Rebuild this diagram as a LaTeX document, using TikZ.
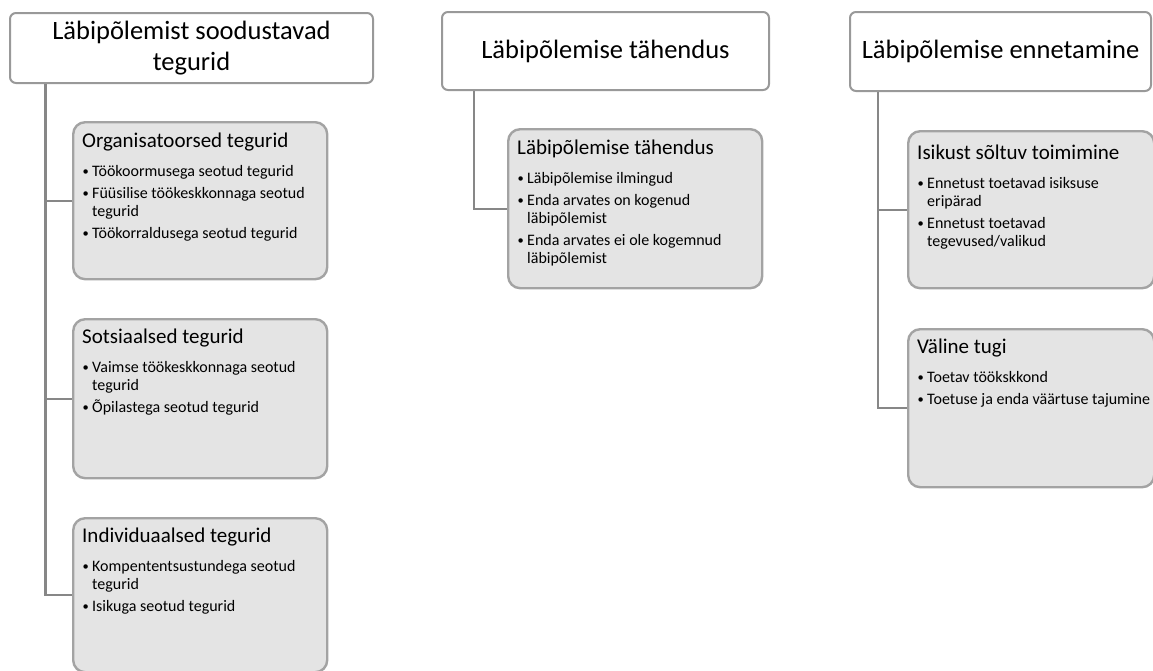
\documentclass[tikz,border=0pt]{standalone}
\usepackage{fontspec}
\setmainfont{Carlito}
\usetikzlibrary{calc}
\definecolor{bordgray}{HTML}{A3A3A3}
\definecolor{topgray}{HTML}{999999}
\definecolor{fillgray}{HTML}{E4E4E4}
\definecolor{conngray}{HTML}{878787}
\newcommand{\bitem}[1]{\par\vspace{3.5pt}\hangindent=10pt\hangafter=1\noindent\makebox[10pt][l]{\kern0.5pt\raisebox{0.6pt}{\fontsize{12.5}{12.5}\selectfont\textbullet}}#1\par}
\newcommand{\cbody}[2]{\begin{minipage}[t]{250pt}\raggedright\fontsize{21}{25}\selectfont #1\par\fontsize{16}{18.3}\selectfont\vspace{7.5pt}#2\end{minipage}}
\tikzset{
  topbox/.style={draw=topgray, line width=2pt, fill=white, rounded corners=6pt, inner sep=0pt, align=center, font=\fontsize{26.5}{31}\selectfont, anchor=north west},
  childbox/.style={draw=bordgray, line width=2.4pt, fill=fillgray, rounded corners=12pt, inner sep=0pt, anchor=north west},
  ctext/.style={anchor=base west, inner sep=0pt},
  conn/.style={draw=conngray, line width=2.2pt}
}
\begin{document}
\begin{tikzpicture}[x=1pt,y=-1pt]
\useasboundingbox (0,0) rectangle (1153,670);
\coordinate (k1) at (45.5,82);
\coordinate (k2) at (474,89);
\coordinate (k3) at (878,90);
% top boxes
\node[topbox, minimum width=363pt, minimum height=70pt] (t1) at (9,12) {Läbipõlemist soodustavad\\tegurid};
\node[topbox, minimum width=327pt, minimum height=78pt] (t2) at (441,11) {Läbipõlemise tähendus};
\node[topbox, minimum width=301pt, minimum height=79pt] (t3) at (849,11) {Läbipõlemise ennetamine};
% child boxes
\node[childbox, minimum width=254pt, minimum height=157pt] (c1) at (72,121) {};
\node[childbox, minimum width=254pt, minimum height=159pt] (c2) at (72,318) {};
\node[childbox, minimum width=254pt, minimum height=154pt] (c3) at (72,517) {};
\node[childbox, minimum width=254pt, minimum height=159pt] (m1) at (507,128) {};
\node[childbox, minimum width=246pt, minimum height=157pt] (r1) at (907,130) {};
\node[childbox, minimum width=246pt, minimum height=158pt] (r2) at (907,328) {};
% connectors
\draw[conn] (t1.south west -| k1) |- (c1.west);
\draw[conn] (t1.south west -| k1) |- (c2.west);
\draw[conn] (t1.south west -| k1) |- (c3.west);
\draw[conn] (t2.south west -| k2) |- (m1.west);
\draw[conn] (t3.south west -| k3) |- (r1.west);
\draw[conn] (t3.south west -| k3) |- (r2.west);
% texts
\node[ctext] (c1t) at ($(c1.north west)+(10,26)$) {\cbody{Organisatoorsed tegurid}{%
\bitem{Töökoormusega seotud tegurid}%
\bitem{Füüsilise töökeskkonnaga seotud\newline tegurid}%
\bitem{Töökorraldusega seotud tegurid}}};
\node[ctext] (c2t) at ($(c2.north west)+(10,25)$) {\cbody{Sotsiaalsed tegurid}{%
\bitem{Vaimse töökeskkonnaga seotud\newline tegurid}%
\bitem{Õpilastega seotud tegurid}}};
\node[ctext] (c3t) at ($(c3.north west)+(10,25)$) {\cbody{Individuaalsed tegurid}{%
\bitem{Kompententsustundega seotud\newline tegurid}%
\bitem{Isikuga seotud tegurid}}};
\node[ctext] (m1t) at ($(m1.north west)+(10,26)$) {\cbody{Läbipõlemise tähendus}{%
\bitem{Läbipõlemise ilmingud}%
\bitem{Enda arvates on kogenud\newline läbipõlemist}%
\bitem{Enda arvates ei ole kogemnud\newline läbipõlemist}}};
\node[ctext] (r1t) at ($(r1.north west)+(10,29)$) {\cbody{Isikust sõltuv toimimine}{%
\bitem{Ennetust toetavad isiksuse\newline eripärad}%
\bitem{Ennetust toetavad\newline tegevused/valikud}}};
\node[ctext] (r2t) at ($(r2.north west)+(10,25)$) {\cbody{Väline tugi}{%
\bitem{Toetav töökskkond}%
\bitem{Toetuse ja enda väärtuse tajumine}}};
\end{tikzpicture}
\end{document}
